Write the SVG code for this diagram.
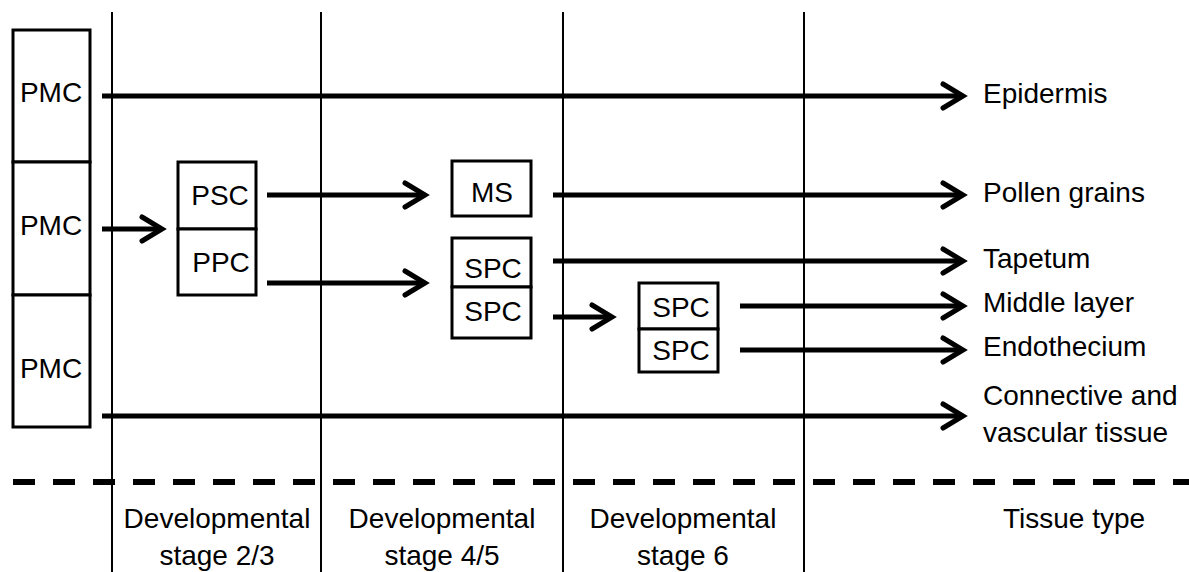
<svg xmlns="http://www.w3.org/2000/svg" width="1189" height="572" viewBox="0 0 1189 572">
<style>
text{font-family:"Liberation Sans",Arial,sans-serif;font-size:28px;fill:#000}
.c{text-anchor:middle}
.box{fill:#fff;stroke:#000;stroke-width:3}
.vl{stroke:#000;stroke-width:2}
.ar{stroke:#000;stroke-width:5;fill:none;marker-end:url(#ah)}
.dash{stroke:#000;stroke-width:6;stroke-dasharray:22 18}
</style>
<defs>
<marker id="ah" markerUnits="userSpaceOnUse" viewBox="-30 -20 40 40" markerWidth="40" markerHeight="40" refX="0" refY="0" orient="auto" overflow="visible">
<path d="M-20,-12 L0,0 L-20,12" fill="none" stroke="#000" stroke-width="5" stroke-linecap="round" stroke-linejoin="miter"/>
</marker>
</defs>
<rect width="1189" height="572" fill="#fff"/>
<g id="grid">
<line class="vl" x1="112" y1="12" x2="112" y2="572"/>
<line class="vl" x1="321" y1="12" x2="321" y2="572"/>
<line class="vl" x1="563" y1="12" x2="563" y2="572"/>
<line class="vl" x1="804" y1="12" x2="804" y2="572"/>
<line class="dash" x1="13" y1="482" x2="1189" y2="482"/>
</g>
<g id="connectors">
<line class="ar" x1="102" y1="96" x2="963" y2="96"/>
<line class="ar" x1="102" y1="229" x2="162" y2="229"/>
<line class="ar" x1="267" y1="195" x2="425" y2="195"/>
<line class="ar" x1="267" y1="283" x2="425" y2="283"/>
<line class="ar" x1="553" y1="195" x2="963" y2="195"/>
<line class="ar" x1="553" y1="261" x2="963" y2="261"/>
<line class="ar" x1="553" y1="317" x2="612" y2="317"/>
<line class="ar" x1="740" y1="306" x2="963" y2="306"/>
<line class="ar" x1="740" y1="350" x2="963" y2="350"/>
<line class="ar" x1="102" y1="416" x2="963" y2="416"/>
</g>
<g id="pmc1"><rect class="box" x="13" y="30" width="77" height="132"/><text class="c" x="51" y="102">PMC</text></g>
<g id="pmc2"><rect class="box" x="13" y="162" width="77" height="133"/><text class="c" x="51" y="235">PMC</text></g>
<g id="pmc3"><rect class="box" x="13" y="295" width="77" height="132"/><text class="c" x="51" y="378">PMC</text></g>
<g id="psc"><rect class="box" x="178" y="162" width="78" height="67"/><text class="c" x="220" y="205">PSC</text></g>
<g id="ppc"><rect class="box" x="178" y="229" width="78" height="66"/><text class="c" x="221" y="272">PPC</text></g>
<g id="ms"><rect class="box" x="452" y="161" width="79" height="55"/><text class="c" x="492" y="202">MS</text></g>
<g id="spc1"><rect class="box" x="452" y="238" width="79" height="49"/><text class="c" x="493" y="278">SPC</text></g>
<g id="spc2"><rect class="box" x="452" y="287" width="79" height="51"/><text class="c" x="493" y="321">SPC</text></g>
<g id="spc3"><rect class="box" x="639" y="283" width="79" height="46"/><text class="c" x="681" y="317">SPC</text></g>
<g id="spc4"><rect class="box" x="639" y="329" width="79" height="43"/><text class="c" x="681" y="360">SPC</text></g>
<g id="labels">
<text x="983" y="103">Epidermis</text>
<text x="983" y="202">Pollen grains</text>
<text x="983" y="268">Tapetum</text>
<text x="983" y="312">Middle layer</text>
<text x="983" y="356">Endothecium</text>
<text x="983" y="405">Connective and</text>
<text x="983" y="442">vascular tissue</text>
</g>
<g id="axis">
<text class="c" x="217" y="528">Developmental</text>
<text class="c" x="217" y="565">stage 2/3</text>
<text class="c" x="442" y="528">Developmental</text>
<text class="c" x="442" y="565">stage 4/5</text>
<text class="c" x="683" y="528">Developmental</text>
<text class="c" x="683" y="565">stage 6</text>
<text class="c" x="1074" y="528">Tissue type</text>
</g>
</svg>
